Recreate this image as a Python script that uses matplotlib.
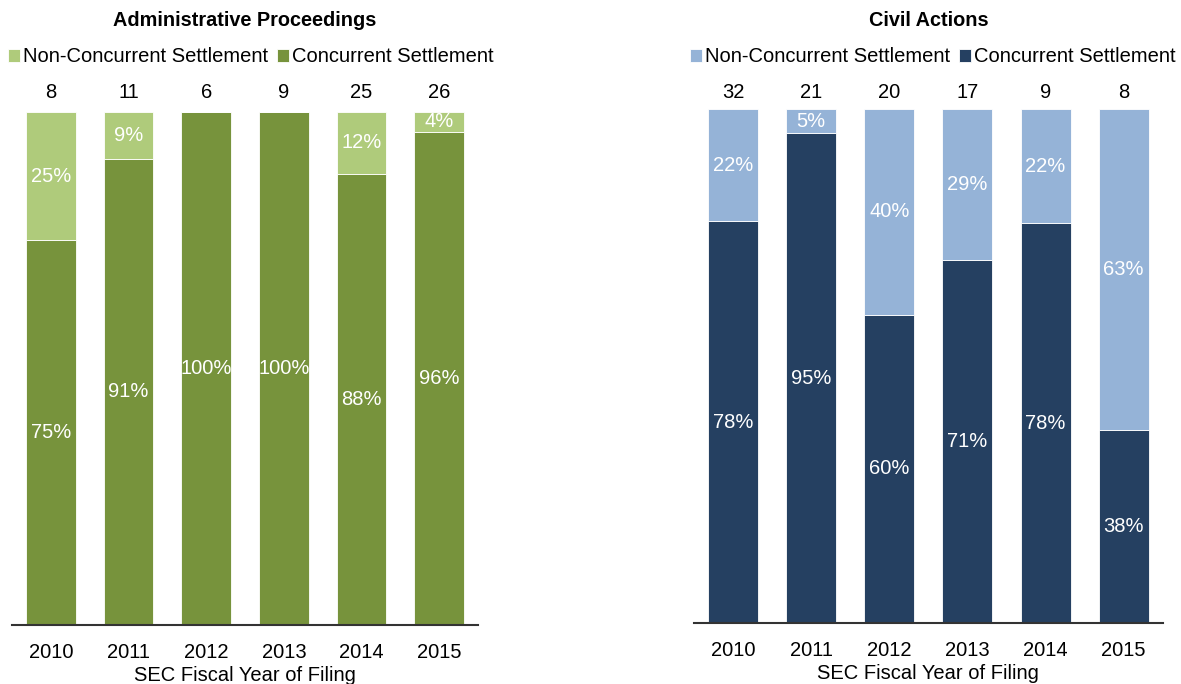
import matplotlib.pyplot as plt
import matplotlib.transforms as mtransforms
import numpy as np

plt.rcParams['font.family'] = ['Liberation Sans', 'DejaVu Sans']

years = ['2010', '2011', '2012', '2013', '2014', '2015']

# Administrative proceedings: total cases and concurrent-settlement cases
ap_total = [8, 11, 6, 9, 25, 26]
ap_concurrent = [6, 10, 6, 9, 22, 25]

# Civil actions
ca_total = [32, 21, 20, 17, 9, 8]
ca_concurrent = [25, 20, 12, 12, 7, 3]

ap_colors = ('#AFCB7B', '#77933C')   # non-concurrent, concurrent
ca_colors = ('#95B3D7', '#254061')

FIG_H = 684


def fy(px):
    # pixel row from top -> figure fraction
    return 1 - px / FIG_H


def pct_label(v):
    return f"{int(v + 0.5)}%"


def draw_panel(fig, ax, title, total, concurrent, colors, leg_x):
    total = np.array(total, dtype=float)
    conc = np.array(concurrent, dtype=float) / total * 100
    non = 100 - conc
    x = np.arange(len(years))
    w = 0.64
    data_fig = mtransforms.blended_transform_factory(ax.transData, fig.transFigure)
    axes_fig = mtransforms.blended_transform_factory(ax.transAxes, fig.transFigure)

    ax.bar(x, conc, w, color=colors[1], edgecolor='white', linewidth=0.6,
           label='Concurrent Settlement')
    ax.bar(x, non, w, bottom=conc, color=colors[0], edgecolor='white', linewidth=0.6,
           label='Non-Concurrent Settlement')

    for i in range(len(x)):
        ax.text(x[i], conc[i] / 2, pct_label(conc[i]), ha='center', va='center',
                color='white', fontsize=14.5)
        if non[i] > 0.5:
            ax.text(x[i], conc[i] + non[i] / 2, pct_label(non[i]), ha='center',
                    va='center', color='white', fontsize=14.5)
        ax.text(x[i], fy(93), f"{int(total[i])}", transform=data_fig,
                ha='center', va='center', fontsize=14.5, color='black')

    ax.set_xlim(-0.5, 5.5)
    ax.set_ylim(0, 100)
    ax.set_yticks([])
    for s in ['top', 'right', 'left']:
        ax.spines[s].set_visible(False)
    ax.spines['bottom'].set_color('#333333')
    ax.spines['bottom'].set_linewidth(1.5)
    ax.set_xticks(x)
    ax.set_xticklabels(years, fontsize=14.5)
    ax.tick_params(axis='x', length=0, pad=13)
    ax.set_xlabel('SEC Fiscal Year of Filing', fontsize=14.5, labelpad=3)

    handles, labels = ax.get_legend_handles_labels()
    ax.legend(handles[::-1], labels[::-1], loc='center',
              bbox_to_anchor=(leg_x, fy(57)), bbox_transform=axes_fig,
              ncol=2, frameon=False, fontsize=14.5,
              handlelength=0.6, handleheight=0.6, handletextpad=0.15,
              columnspacing=0.45, borderaxespad=0)
    ax.text(0.5, fy(20), title, transform=axes_fig, ha='center', va='center',
            fontsize=14.3, fontweight='bold')


fig = plt.figure(figsize=(11.81, 6.84), dpi=100)
ax1 = fig.add_axes([0.0102, 0.0863, 0.3946, 0.75])
ax2 = fig.add_axes([0.5876, 0.0892, 0.397, 0.7515])

draw_panel(fig, ax1, 'Administrative Proceedings', ap_total, ap_concurrent, ap_colors, 0.512)
draw_panel(fig, ax2, 'Civil Actions', ca_total, ca_concurrent, ca_colors, 0.51)

fig.savefig('out.png', dpi=100)
